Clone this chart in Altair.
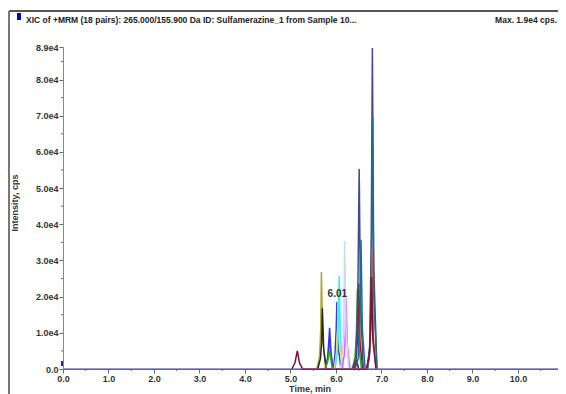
import altair as alt
import pandas as pd

# ---- data ----
trace_names = ["navy", "teal", "brown", "maroon", "darkred", "green", "olive",
               "black", "blue", "red", "cyan", "yellow", "lightblue", "magenta"]
trace_colors = ["#45459c", "#1b6f88", "#b0603a", "#7a1034", "#a01818", "#22b022",
                "#a8a838", "#2a2a20", "#3434f0", "#f03030", "#40eef0", "#eeee40",
                "#c4dcf4", "#ff50ff"]

navy_t = [6.36, 6.44, 6.48, 6.51, 6.54, 6.60, 6.68, 6.74, 6.775, 6.80, 6.83, 6.90]
navy_v = [0, 3000, 20000, 55300, 18000, 0, 0, 6000, 36000, 88700, 28000, 0]
teal_t = [6.42, 6.49, 6.525, 6.55, 6.58, 6.64, 6.70, 6.75, 6.78, 6.805, 6.83, 6.90]
teal_v = [0, 3000, 13000, 35700, 11000, 0, 0, 6000, 28000, 69500, 20000, 0]
brown_t = [6.68, 6.74, 6.77, 6.79, 6.82, 6.88]
brown_v = [0, 4000, 15000, 33300, 9000, 0]
maroon_t = [5.03, 5.10, 5.15, 5.20, 5.27, 6.67, 6.73, 6.76, 6.78, 6.81, 6.88]
maroon_v = [0, 1800, 5000, 1600, 0, 0, 3500, 11000, 25400, 8000, 0]
darkred_t = [6.39, 6.45, 6.48, 6.50, 6.53, 6.59]
darkred_v = [0, 3500, 10000, 23600, 7000, 0]
green_t = [5.76, 5.82, 5.86, 5.92, 6.36, 6.42, 6.45, 6.47, 6.50, 6.56]
green_v = [0, 2200, 5000, 0, 0, 3500, 10000, 22000, 6500, 0]
olive_t = [5.58, 5.64, 5.665, 5.68, 5.71, 5.77]
olive_v = [0, 3500, 11000, 26800, 8000, 0]
black_t = [5.60, 5.66, 5.685, 5.70, 5.73, 5.79, 6.40, 6.45, 6.50]
black_v = [0, 3000, 7500, 16800, 5500, 0, 0, 2500, 0]
blue_t = [5.77, 5.82, 5.845, 5.86, 5.89, 5.95, 5.94, 5.98, 6.005, 6.02, 6.05, 6.11]
blue_v = [0, 3500, 8000, 11400, 4500, 0, 0, 4500, 11000, 18500, 6000, 0]
red_t = [5.77, 5.82, 5.845, 5.86, 5.89, 5.95]
red_v = [0, 3000, 6000, 8900, 3500, 0]
cyan_t = [5.98, 6.03, 6.055, 6.07, 6.10, 6.16]
cyan_v = [0, 4500, 12000, 25700, 8000, 0]
yellow_t = [5.96, 6.01, 6.035, 6.05, 6.08, 6.14]
yellow_v = [0, 4000, 10500, 23000, 7000, 0]
lightblue_t = [6.10, 6.15, 6.175, 6.19, 6.22, 6.28]
lightblue_v = [0, 5500, 15000, 35400, 11000, 0]
magenta_t = [6.12, 6.18, 6.205, 6.22, 6.25, 6.31]
magenta_v = [0, 3500, 9500, 19500, 6500, 0]

trace_t = [navy_t, teal_t, brown_t, maroon_t, darkred_t, green_t, olive_t,
           black_t, blue_t, red_t, cyan_t, yellow_t, lightblue_t, magenta_t]
trace_v = [navy_v, teal_v, brown_v, maroon_v, darkred_v, green_v, olive_v,
           black_v, blue_v, red_v, cyan_v, yellow_v, lightblue_v, magenta_v]
# draw order (first = bottom)
draw_order = ["olive", "black", "red", "blue", "green", "yellow", "cyan", "magenta",
              "lightblue", "darkred", "navy", "teal", "brown", "maroon"]

baseline_t = [0.0, 10.9]
baseline_v = [0, 0]

y_ticks = [0, 10000, 20000, 30000, 40000, 50000, 60000, 70000, 80000, 89000]
y_minor = [5000, 15000, 25000, 35000, 45000, 55000, 65000, 75000, 85000]
x_ticks = [0, 1, 2, 3, 4, 5, 6, 7, 8, 9, 10]
x_minor = [0.5, 1.5, 2.5, 3.5, 4.5, 5.5, 6.5, 7.5, 8.5, 9.5, 10.5]

peak_label = "6.01"
peak_label_t = 6.03
peak_label_v = 20600

header_text = "XIC of +MRM (18 pairs): 265.000/155.900 Da ID: Sulfamerazine_1 from Sample 10..."
max_text = "Max. 1.9e4 cps."

# ---- chart ----
W, H = 495, 322
FONT = "Liberation Sans"
TXT = "#333333"

xs = alt.Scale(domain=[0, 10.88], nice=False, zero=False)
ys = alt.Scale(domain=[0, 89000], nice=False)

xaxis = alt.Axis(values=x_ticks, format=".1f", title=None, grid=False,
                 labelFont=FONT, labelFontSize=9, labelFontWeight="bold",
                 labelColor=TXT, tickSize=4, tickColor="#666", domainColor="#666",
                 labelPadding=1, labelFlush=False, labelOverlap=False)
yaxis = alt.Axis(values=y_ticks, title=None, grid=False,
                 labelExpr="datum.value == 0 ? '0.0' : format(datum.value / 10000, '.1f') + 'e4'",
                 labelFont=FONT, labelFontSize=9, labelFontWeight="bold",
                 labelColor=TXT, tickSize=4, tickColor="#666", domainColor="#888",
                 labelPadding=1, labelOverlap=False, labelFlush=False)


def X(field):
    return alt.X(field, scale=xs, axis=xaxis)


def Y(field):
    return alt.Y(field, scale=ys, axis=yaxis)


layers = []
base_df = pd.DataFrame({"t": baseline_t, "v": baseline_v})
layers.append(
    alt.Chart(base_df).mark_line(color="#8080ee", strokeWidth=1.5, clip=True).encode(
        x=X("t:Q"), y=Y("v:Q")
    )
)
for name in draw_order:
    i = trace_names.index(name)
    df = pd.DataFrame({"t": trace_t[i], "v": trace_v[i]})
    layers.append(
        alt.Chart(df).mark_line(color=trace_colors[i], strokeWidth=1.5).encode(
            x=X("t:Q"), y=Y("v:Q")
        )
    )
layers.append(
    alt.Chart(base_df).mark_line(color="#8888f0", strokeWidth=1.2, opacity=0.8, clip=True).encode(
        x=X("t:Q"), y=Y("v:Q")
    )
)

# minor ticks
layers.append(
    alt.Chart(pd.DataFrame({"t": x_minor})).mark_rule(color="#666").encode(
        x=X("t:Q"), y=alt.value(H), y2=alt.value(H + 2)
    )
)
layers.append(
    alt.Chart(pd.DataFrame({"v": y_minor})).mark_rule(color="#666").encode(
        y=Y("v:Q"), x=alt.value(-2), x2=alt.value(0)
    )
)

# peak annotation
layers.append(
    alt.Chart(pd.DataFrame({"t": [peak_label_t], "v": [peak_label_v], "s": [peak_label]}))
    .mark_text(font=FONT, fontSize=10, fontWeight="bold", color=TXT, baseline="middle")
    .encode(x=X("t:Q"), y=Y("v:Q"), text="s:N")
)

# frame lines
layers.append(alt.Chart(pd.DataFrame({"a": [0]})).mark_rule(color="#555", strokeWidth=2).encode(
    x=alt.value(-54), x2=alt.value(W + 10), y=alt.value(-36)))
layers.append(alt.Chart(pd.DataFrame({"a": [0]})).mark_rule(color="#777", strokeWidth=2).encode(
    x=alt.value(-54), y=alt.value(-36), y2=alt.value(H + 40)))
# blue header square
layers.append(alt.Chart(pd.DataFrame({"a": [0]})).mark_rect(color="#0000cc").encode(
    x=alt.value(-46), x2=alt.value(-42), y=alt.value(-34), y2=alt.value(-27)))
# small blue marker on y axis
layers.append(alt.Chart(pd.DataFrame({"a": [0]})).mark_rect(color="#2222cc").encode(
    x=alt.value(-2), x2=alt.value(0), y=alt.value(H - 8), y2=alt.value(H - 3)))

# header texts
layers.append(alt.Chart(pd.DataFrame({"s": [header_text]})).mark_text(
    font=FONT, fontSize=8.5, fontWeight="bold", color="#222", align="left", baseline="alphabetic"
).encode(x=alt.value(-37), y=alt.value(-24), text="s:N"))
layers.append(alt.Chart(pd.DataFrame({"s": [max_text]})).mark_text(
    font=FONT, fontSize=8.5, fontWeight="bold", color="#222", align="right", baseline="alphabetic"
).encode(x=alt.value(W - 1), y=alt.value(-24), text="s:N"))

# axis titles
layers.append(alt.Chart(pd.DataFrame({"s": ["Intensity, cps"]})).mark_text(
    font=FONT, fontSize=9, fontWeight="bold", color=TXT, angle=270, align="center", baseline="middle"
).encode(x=alt.value(-48), y=alt.value(H / 2 - 5), text="s:N"))
layers.append(alt.Chart(pd.DataFrame({"s": ["Time, min"]})).mark_text(
    font=FONT, fontSize=9, fontWeight="bold", color=TXT, align="center", baseline="middle"
).encode(x=alt.value(247), y=alt.value(H + 20), text="s:N"))

chart = alt.layer(*layers).properties(
    width=W, height=H,
    autosize=alt.AutoSizeParams(type="none"),
    padding={"left": 55, "top": 39, "right": 0, "bottom": 25},
    background="white",
).configure_view(stroke=None)

chart.save("out.html", embed_options={"renderer": "svg", "actions": False})
